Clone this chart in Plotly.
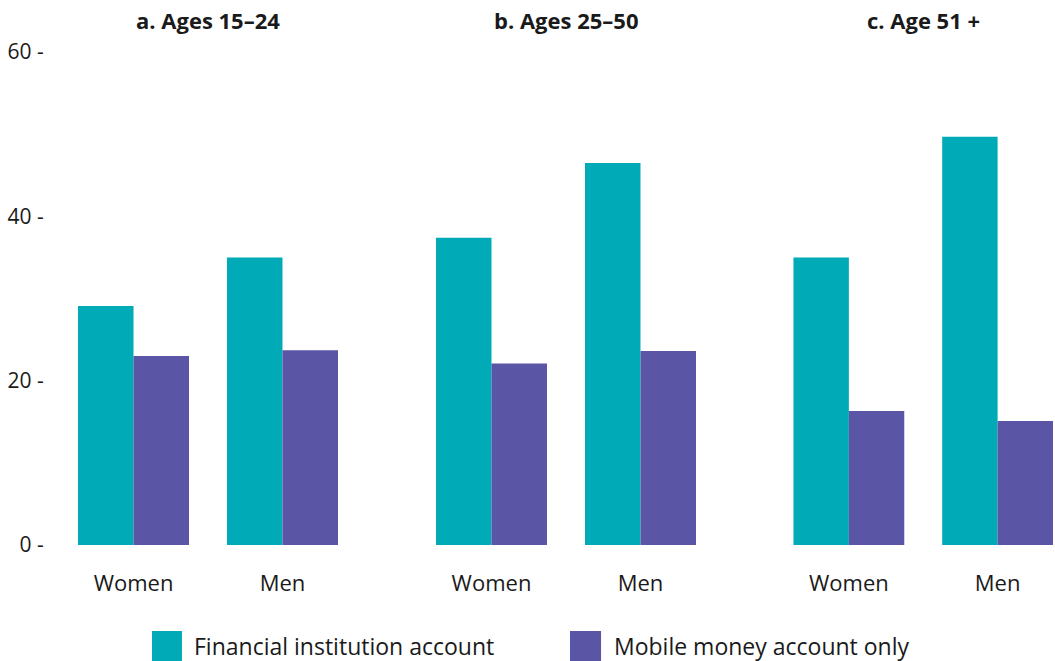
import plotly.graph_objects as go

panels = ["a. Ages 15–24", "b. Ages 25–50", "c. Age 51 +"]
groups = ["Women", "Men"]
series_names = ["Financial institution account", "Mobile money account only"]
fin_inst = [[29.1, 35.0], [37.4, 46.5], [35.0, 49.7]]
mobile_only = [[23.0, 23.7], [22.1, 23.6], [16.3, 15.1]]
y_ticks = [0, 20, 40, 60]

colors = ["#00AAB6", "#5B55A5"]
FONT = "Open Sans"
TXT = "#1a1a1a"

domains = [(0.00896, 0.30547), (0.36517, 0.66169), (0.72090, 1.0)]
ranges = [[-0.5, 1.5], [-0.5, 1.5], [-0.5, 1.386]]

fig = go.Figure()
for i in range(3):
    xa = "x" if i == 0 else f"x{i+1}"
    for s, (vals, name) in enumerate(zip([fin_inst, mobile_only], series_names)):
        fig.add_trace(go.Bar(
            x=groups, y=vals[i][:], name=name, xaxis=xa, yaxis="y",
            marker=dict(color=colors[s], line=dict(width=0)),
            offsetgroup=str(s), showlegend=False, hoverinfo="x+y+name",
        ))

layout = dict(
    width=1055, height=661,
    margin=dict(l=50, r=0, t=52, b=116),
    paper_bgcolor="white", plot_bgcolor="white",
    barmode="group", bargap=0.255, bargroupgap=0,
    font=dict(family=FONT, size=21, color=TXT),
    showlegend=False,
    yaxis=dict(range=[0, 60], tickvals=y_ticks, ticktext=[f"{v} -" for v in y_ticks],
               showgrid=False, zeroline=False, showline=False,
               ticks="outside", ticklen=10, tickcolor="rgba(0,0,0,0)",
               tickfont=dict(family=FONT, size=21, color=TXT), anchor="x"),
)
for i in range(3):
    key = "xaxis" if i == 0 else f"xaxis{i+1}"
    layout[key] = dict(
        domain=list(domains[i]), range=ranges[i], anchor="y",
        type="category", showgrid=False, zeroline=False, showline=False,
        ticks="outside", ticklen=19, tickcolor="rgba(0,0,0,0)",
        tickfont=dict(family=FONT, size=22, color=TXT),
    )
fig.update_layout(**layout)

annotations = []
for i, title in enumerate(panels):
    xr = "x" if i == 0 else f"x{i+1}"
    annotations.append(dict(
        text=f"<b>{title}</b>", x=0.5, xref=xr, y=1.0, yref="paper",
        yshift=32, yanchor="middle", xanchor="center", showarrow=False,
        font=dict(family=FONT, size=22, color=TXT),
    ))

shapes = []
legend_pos = [(0.1015, 0.1313, 0.1413), (0.5174, 0.5483, 0.5592)]
for (x0, x1, tx), name, c in zip(legend_pos, series_names, colors):
    shapes.append(dict(type="rect", xref="paper", yref="paper",
                       x0=x0, x1=x1, y0=-0.1744, y1=-0.2353,
                       fillcolor=c, line=dict(width=0)))
    annotations.append(dict(text=name, x=tx, y=-0.2049, xref="paper", yref="paper",
                            xanchor="left", yanchor="middle", showarrow=False,
                            font=dict(family=FONT, size=23, color=TXT)))
fig.update_layout(annotations=annotations, shapes=shapes)

fig.write_html("out.html", config={"displayModeBar": False},
               post_script="document.body.style.margin='0';document.body.style.overflow='hidden';")
